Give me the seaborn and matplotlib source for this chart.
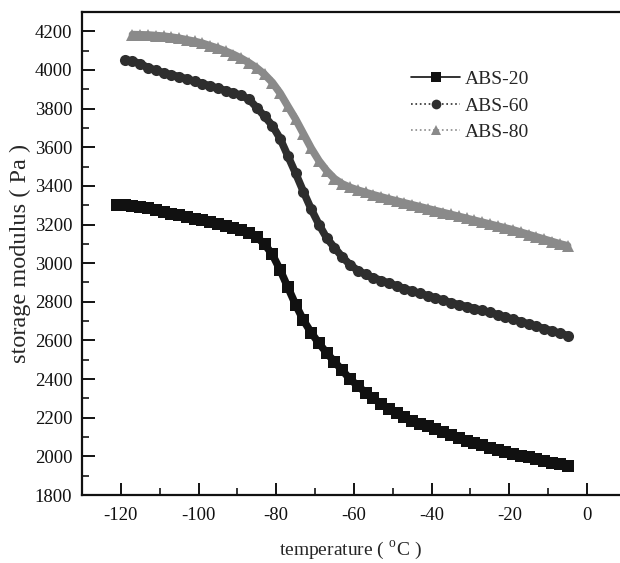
import numpy as np
import pandas as pd
import matplotlib
matplotlib.use("Agg")
import matplotlib.pyplot as plt
import seaborn as sns
from matplotlib.lines import Line2D
from matplotlib.ticker import MultipleLocator

# === DMA data: storage modulus vs temperature ===
temp_20 = np.arange(-121, -4, 2)
abs_20 = [3302, 3300, 3295, 3290, 3283, 3275, 3266, 3257, 3247, 3238,
          3229, 3221, 3213, 3204, 3194, 3183, 3172, 3157, 3135, 3098,
          3045, 2965, 2875, 2785, 2705, 2640, 2585, 2535, 2490, 2445,
          2400, 2365, 2330, 2300, 2272, 2245, 2222, 2202, 2185, 2168,
          2155, 2140, 2125, 2110, 2096, 2082, 2069, 2057, 2045, 2034,
          2024, 2014, 2004, 1995, 1985, 1976, 1967, 1958, 1950]

temp_60 = np.arange(-119, -4, 2)
abs_60 = [4052, 4046, 4032, 4012, 3998, 3985, 3975, 3965, 3953, 3941,
          3929, 3917, 3905, 3893, 3881, 3868, 3848, 3805, 3760, 3712,
          3645, 3555, 3465, 3370, 3280, 3200, 3130, 3080, 3032, 2992,
          2962, 2942, 2925, 2910, 2897, 2882, 2868, 2855, 2843, 2831,
          2820, 2808, 2795, 2785, 2775, 2765, 2755, 2745, 2733, 2721,
          2709, 2697, 2685, 2673, 2661, 2649, 2637, 2625]

temp_80 = np.arange(-117, -4, 2)
abs_80 = [4183, 4182, 4181, 4178, 4175, 4170, 4164, 4156, 4148, 4138,
          4125, 4112, 4097, 4080, 4060, 4037, 4010, 3977, 3935, 3880,
          3812, 3745, 3670, 3595, 3530, 3478, 3437, 3410, 3392, 3378,
          3366, 3354, 3343, 3332, 3322, 3312, 3302, 3292, 3282, 3272,
          3262, 3252, 3242, 3232, 3222, 3212, 3202, 3192, 3182, 3172,
          3160, 3148, 3136, 3124, 3112, 3100, 3090]

series = [
    ("ABS-20", temp_20, abs_20, "#111111", "s", "-"),
    ("ABS-60", temp_60, abs_60, "#2e2e2e", "o", ":"),
    ("ABS-80", temp_80, abs_80, "#8a8a8a", "^", ":"),
]

sns.set_theme(style="ticks")
plt.rcParams["font.family"] = ["Liberation Serif", "DejaVu Serif"]
plt.rcParams["mathtext.fontset"] = "stix"
plt.rcParams["axes.unicode_minus"] = False

fig = plt.figure(figsize=(6.2, 5.63), dpi=100)
ax = fig.add_axes([82 / 620, 68 / 563, 538 / 620, 483 / 563])

handles = []
for name, t, v, color, marker, ls in series:
    df = pd.DataFrame({"temperature": t, "modulus": v})
    # thick band under the markers, like the dense scan in the original
    sns.lineplot(data=df, x="temperature", y="modulus", ax=ax, color=color,
                 linewidth=5.5, marker=marker, markersize=8,
                 markeredgewidth=0, sort=False, legend=False)
    handles.append(Line2D([0], [0], color=color, linestyle=ls, linewidth=1.2,
                          marker=marker, markersize=7, markeredgewidth=0,
                          label=name))

ax.set_xlim(-130, 8.5)
ax.set_ylim(1800, 4300)
ax.xaxis.set_major_locator(MultipleLocator(20))
ax.xaxis.set_minor_locator(MultipleLocator(10))
ax.yaxis.set_minor_locator(MultipleLocator(100))
ax.set_yticks(np.arange(1800, 4201, 200))

ax.tick_params(axis="both", which="major", direction="in", length=9,
               width=1.3, labelsize=13.5, color="black", labelcolor="#111111")
ax.tick_params(axis="both", which="minor", direction="in", length=5,
               width=1.1, color="black")
ax.tick_params(axis="x", pad=9)
ax.tick_params(axis="y", pad=7)

for side in ["left", "bottom", "top"]:
    ax.spines[side].set_linewidth(1.6)
    ax.spines[side].set_color("#111111")
ax.spines["right"].set_visible(False)

ax.set_xlabel(r"temperature ( $^\mathregular{o}$C )", fontsize=14)
ax.set_ylabel("storage modulus ( Pa )", fontsize=17.5)
ax.xaxis.set_label_coords(0.5, -0.093)
ax.yaxis.set_label_coords(-0.095, 0.5)

ax.legend(handles=handles, loc="upper left", bbox_to_anchor=(0.587, 0.907),
          frameon=False, fontsize=14, handlelength=2.5, handletextpad=0.26,
          labelspacing=0.46, borderpad=0.2)

fig.savefig("out.png", dpi=100)
